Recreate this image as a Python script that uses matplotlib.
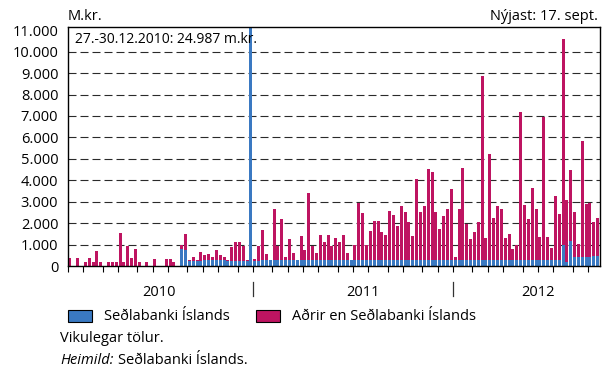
import matplotlib
matplotlib.use("Agg")
import matplotlib.pyplot as plt
import pandas as pd
from matplotlib.patches import Rectangle

plt.rcParams['font.family'] = ['Open Sans', 'DejaVu Sans']

# vikulegar tölur, m.kr. (heildarvelta og hlutur Seðlabankans)
total = [360, 0, 360, 0, 170, 360, 170, 700, 170, 0,
         170, 170, 170, 1540, 170, 920, 350, 780, 170, 0,
         170, 0, 320, 0, 0, 320, 320, 170, 0, 980,
         1480, 270, 420, 280, 650, 510, 560, 420, 750, 510,
         420, 280, 890, 1120, 1120, 930, 280, 24987, 310, 920,
         1660, 580, 280, 2640, 920, 2180, 400, 1240, 590, 280,
         1380, 730, 3390, 920, 590, 1430, 1100, 1430, 920, 1290,
         1100, 1430, 590, 280, 960, 2920, 2460, 960, 1620, 2080,
         2080, 1570, 1430, 2550, 2360, 1850, 2820, 2500, 2030, 1380,
         4080, 2500, 2780, 4540, 4400, 2500, 1710, 2310, 2640, 3610,
         400, 2640, 4590, 1980, 1240, 1570, 2030, 8870, 1290, 5240,
         2260, 2780, 2640, 1290, 1470, 780, 960, 7190, 2850, 2200,
         3620, 2640, 1340, 6970, 1340, 820, 3250, 2410, 10610, 3060,
         4460, 2500, 1010, 5850, 2870, 2920, 2030, 2220]
sedlabanki = [0] * 29 + [770, 740, 230, 230, 230, 230, 280, 280, 280, 280, 280,
              280, 230, 230, 230, 230, 230, 230, 24700, 220, 220] + [270] * 78 + \
             [960, 170, 1150, 400, 400, 400, 400, 400, 450, 450]
adrir = [t - s for t, s in zip(total, sedlabanki)]

weeks = pd.date_range('2010-02-01', periods=len(total), freq='W-MON')
years = ['2010', '2011', '2012']
year_label_x = [23, 76, 121.5]
year_breaks = [47.5, 99.5]

blue = '#3A79C2'
red = '#BE1461'

W, H = 605, 371
fig = plt.figure(figsize=(W / 100, H / 100), dpi=100)
ax = fig.add_axes([68 / W, 1 - 266 / H, 532 / W, 239 / H])

x = range(len(total))
ax.bar(x, sedlabanki, width=0.78, color=blue, linewidth=0, zorder=2)
ax.bar(x, adrir, bottom=sedlabanki, width=0.78, color=red, linewidth=0, zorder=2)

ax.set_xlim(-0.45, len(total) - 0.4)
ax.set_ylim(0, 11150)

yticks = list(range(0, 11001, 1000))
ax.set_yticks(yticks)
ax.set_yticklabels([f"{v:,}".replace(",", ".") for v in yticks], fontsize=10.5)
for v in yticks[1:-1]:
    ax.axhline(v, color='#2a2a2a', lw=0.8, linestyle=(0, (7.2, 3.6)), zorder=1)

# mánaðamerki
tick_pos = [i - 0.5 for i in range(len(weeks)) if i == 0 or weeks[i].month != weeks[i - 1].month]
ax.set_xticks(tick_pos)
ax.set_xticklabels([])
ax.tick_params(axis='x', direction='out', length=4, width=0.8, color='black')
ax.tick_params(axis='y', length=0, pad=7)

for s in ax.spines.values():
    s.set_linewidth(1.0)
    s.set_color('black')

trans = ax.get_xaxis_transform()
for xb in year_breaks:
    ax.plot([xb, xb], [-0.067, -0.126], transform=trans, color='#333333', lw=0.9, clip_on=False)
for xl, yl in zip(year_label_x, years):
    ax.text(xl, -0.109, yl, transform=trans, ha='center', va='center', fontsize=10.5)

ax.text(0.013, 0.946, "27.-30.12.2010: 24.987 m.kr.", transform=ax.transAxes,
        ha='left', va='center', fontsize=10)

fig.text(68 / W, 1 - 17 / H, "M.kr.", ha='left', va='center', fontsize=10.5)
fig.text(598 / W, 1 - 17 / H, "Nýjast: 17. sept.", ha='right', va='center', fontsize=10.5)

# skýringar
for px, col, label in [(68, blue, "Seðlabanki Íslands"), (256, red, "Aðrir en Seðlabanki Íslands")]:
    fig.patches.append(Rectangle((px / W, 1 - 322 / H), 24 / W, 12 / H, transform=fig.transFigure,
                                 facecolor=col, edgecolor='black', lw=0.8))
    fig.text((px + 36) / W, 1 - 316 / H, label, ha='left', va='center', fontsize=10.5)

fig.text(60 / W, 1 - 339 / H, "Vikulegar tölur.", ha='left', va='center', fontsize=10.5)
t1 = fig.text(60 / W, 1 - 361 / H, "Heimild:", ha='left', va='center', fontsize=10.5, style='italic')
fig.canvas.draw()
bb = t1.get_window_extent()
fig.text((bb.x1 + 5) / W, 1 - 361 / H, "Seðlabanki Íslands.", ha='left', va='center', fontsize=10.5)

fig.savefig("out.png", dpi=100)
